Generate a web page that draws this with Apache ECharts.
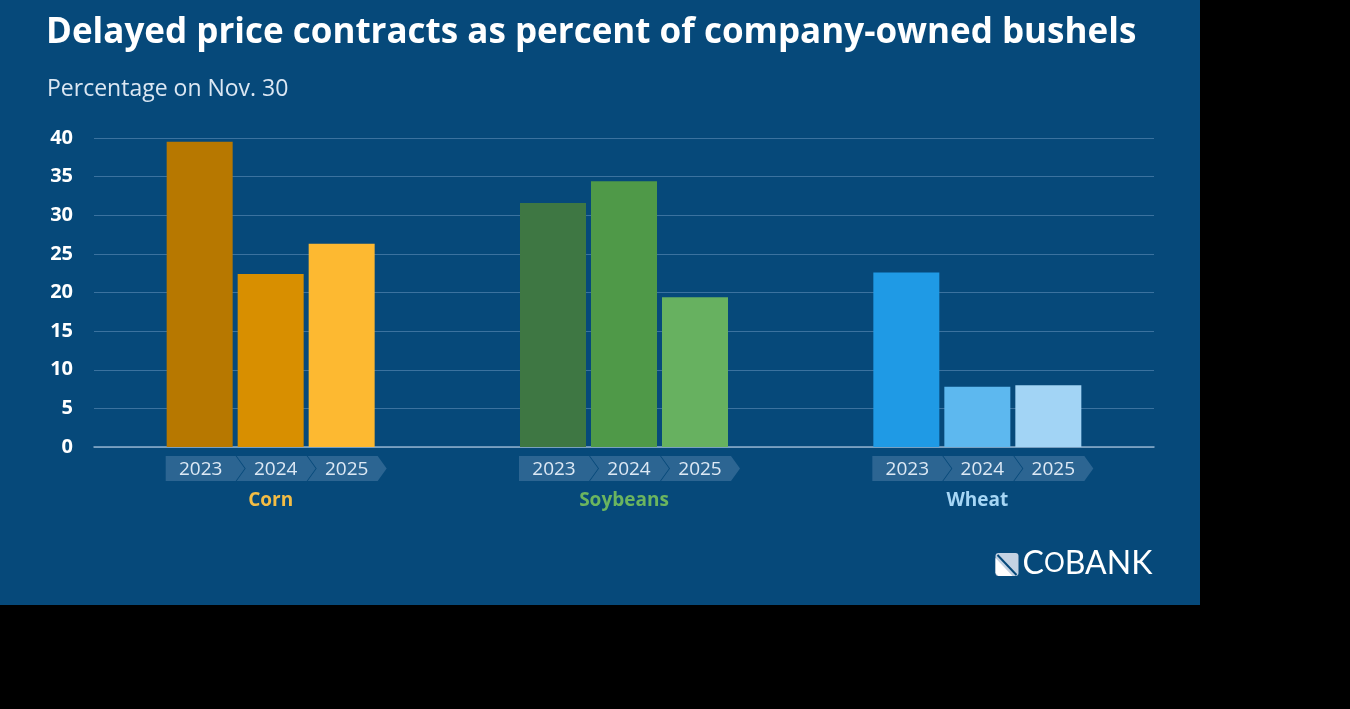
<!DOCTYPE html>
<html>
<head>
<meta charset="utf-8">
<script src="https://cdn.jsdelivr.net/npm/echarts@6/dist/echarts.min.js"></script>
<style>
  html, body { margin: 0; padding: 0; background: #000; }
  #root { width: 1200px; height: 605px; }
</style>
</head>
<body>
<div id="root"></div>
<script>
// data
const crops = ['Corn', 'Soybeans', 'Wheat'];
const years = ['2023', '2024', '2025'];
const v2023 = [39.5, 31.6, 22.6];
const v2024 = [22.4, 34.4, 7.8];
const v2025 = [26.3, 19.4, 8.0];
const yTicks = [0, 5, 10, 15, 20, 25, 30, 35, 40];

// colours per crop, one per year
const cropColors = {
  Corn: ['#b77800', '#d88f00', '#fdb931'],
  Soybeans: ['#3e7743', '#4f9948', '#67b160'],
  Wheat: ['#1f9ae5', '#5db8ef', '#a2d4f5'],
};
const labelColors = { Corn: '#f3bd45', Soybeans: '#6bb55f', Wheat: '#a6d6f5' };

const BAR_W = 66;
const BAR_GAP = 5;
const STEP = BAR_W + BAR_GAP;

const makeBar = (name, values, yi) => ({
  type: 'bar',
  name,
  barWidth: BAR_W,
  barGap: (BAR_GAP / BAR_W * 100) + '%',
  data: values.map((v, i) => ({
    value: v,
    itemStyle: { color: cropColors[crops[i]][yi] },
  })),
});

// chevron tags under each bar, placed from the category scale
const chevronData = [];
crops.forEach((c, ci) => years.forEach((y, yi) => chevronData.push([ci, yi])));

const renderChevron = (params, api) => {
  const ci = api.value(0);
  const yi = api.value(1);
  const base = api.coord([ci, 0]);
  const c = base[0] + (yi - 1) * STEP;
  const top = base[1] + 9;
  const h = 25;
  const mid = top + h / 2;
  const notch = yi === 0 ? 0 : 9;
  const left = c - 34;
  const right = c + 36;
  const pts = [
    [left, top], [right, top], [right + 9, mid], [right, top + h],
    [left, top + h], [left + notch, mid],
  ];
  return {
    type: 'group',
    children: [
      { type: 'polygon', shape: { points: pts }, style: { fill: '#2c6592' } },
      {
        type: 'text',
        style: {
          text: years[yi],
          x: c + (yi === 0 ? 1 : 5),
          y: mid + 1,
          align: 'center',
          verticalAlign: 'middle',
          fill: '#dde9f5',
          font: '19px "Open Sans", sans-serif',
        },
      },
    ],
  };
};

const rich = {};
crops.forEach((c) => {
  rich[c] = { color: labelColors[c], fontSize: 19, fontWeight: 'bold', fontFamily: 'Open Sans' };
});

const options = {
  backgroundColor: '#06497a',
  animation: false,
  title: [
    {
      text: 'Delayed price contracts as percent of company-owned bushels',
      left: 41,
      top: 11,
      textStyle: { color: '#fff', fontSize: 35, fontWeight: 'bold', fontFamily: 'Open Sans' },
    },
    {
      text: 'Percentage on Nov. 30',
      left: 42,
      top: 73,
      textStyle: { color: '#dbe7f3', fontSize: 23, fontWeight: 'normal', fontFamily: 'Open Sans' },
    },
  ],
  grid: { left: 94, right: 46, top: 138, bottom: 158 },
  xAxis: {
    type: 'category',
    data: crops,
    axisLine: { lineStyle: { color: '#8eb0cd', width: 1.5 } },
    axisTick: { length: 6, lineStyle: { color: '#8eb0cd' } },
    axisLabel: {
      margin: 44,
      formatter: (v) => `{${v}|${v}}`,
      rich,
    },
  },
  yAxis: {
    type: 'value',
    min: yTicks[0],
    max: yTicks[yTicks.length - 1],
    interval: 5,
    axisLine: { show: false },
    axisTick: { show: false },
    axisLabel: {
      margin: 21,
      color: '#fff',
      fontSize: 20,
      fontWeight: 'bold',
      fontFamily: 'Open Sans',
    },
    splitLine: { lineStyle: { color: 'rgba(125,165,205,0.45)', width: 1 } },
  },
  series: [
    makeBar(years[0], v2023, 0),
    makeBar(years[1], v2024, 1),
    makeBar(years[2], v2025, 2),
    {
      type: 'custom',
      renderItem: renderChevron,
      data: chevronData,
      clip: false,
      silent: true,
      z: 3,
    },
  ],
  graphic: [
    // CoBank logo
    {
      type: 'group',
      left: 995,
      top: 548,
      children: [
        { type: 'rect', shape: { x: 0, y: 0, width: 23, height: 23, r: 3 }, style: { fill: '#c3d2e3' } },
        { type: 'polygon', shape: { points: [[0, 5], [17, 23], [3, 23], [0, 20]] }, style: { fill: '#fff' } },
        { type: 'line', shape: { x1: 2, y1: 2, x2: 21, y2: 22 }, style: { stroke: '#06497a', lineWidth: 2 } },
        {
          type: 'text',
          x: 27,
          y: -5,
          style: {
            text: '{a|C}{b|O}{a|BANK}',
            rich: {
              a: { fontSize: 32, fill: '#fff', fontFamily: 'Lato' },
              b: { fontSize: 26, fill: '#fff', fontFamily: 'Lato' },
            },
          },
        },
      ],
    },
  ],
};

const myChart = echarts.init(document.getElementById('root'));
myChart.setOption(options);
</script>
</body>
</html>
